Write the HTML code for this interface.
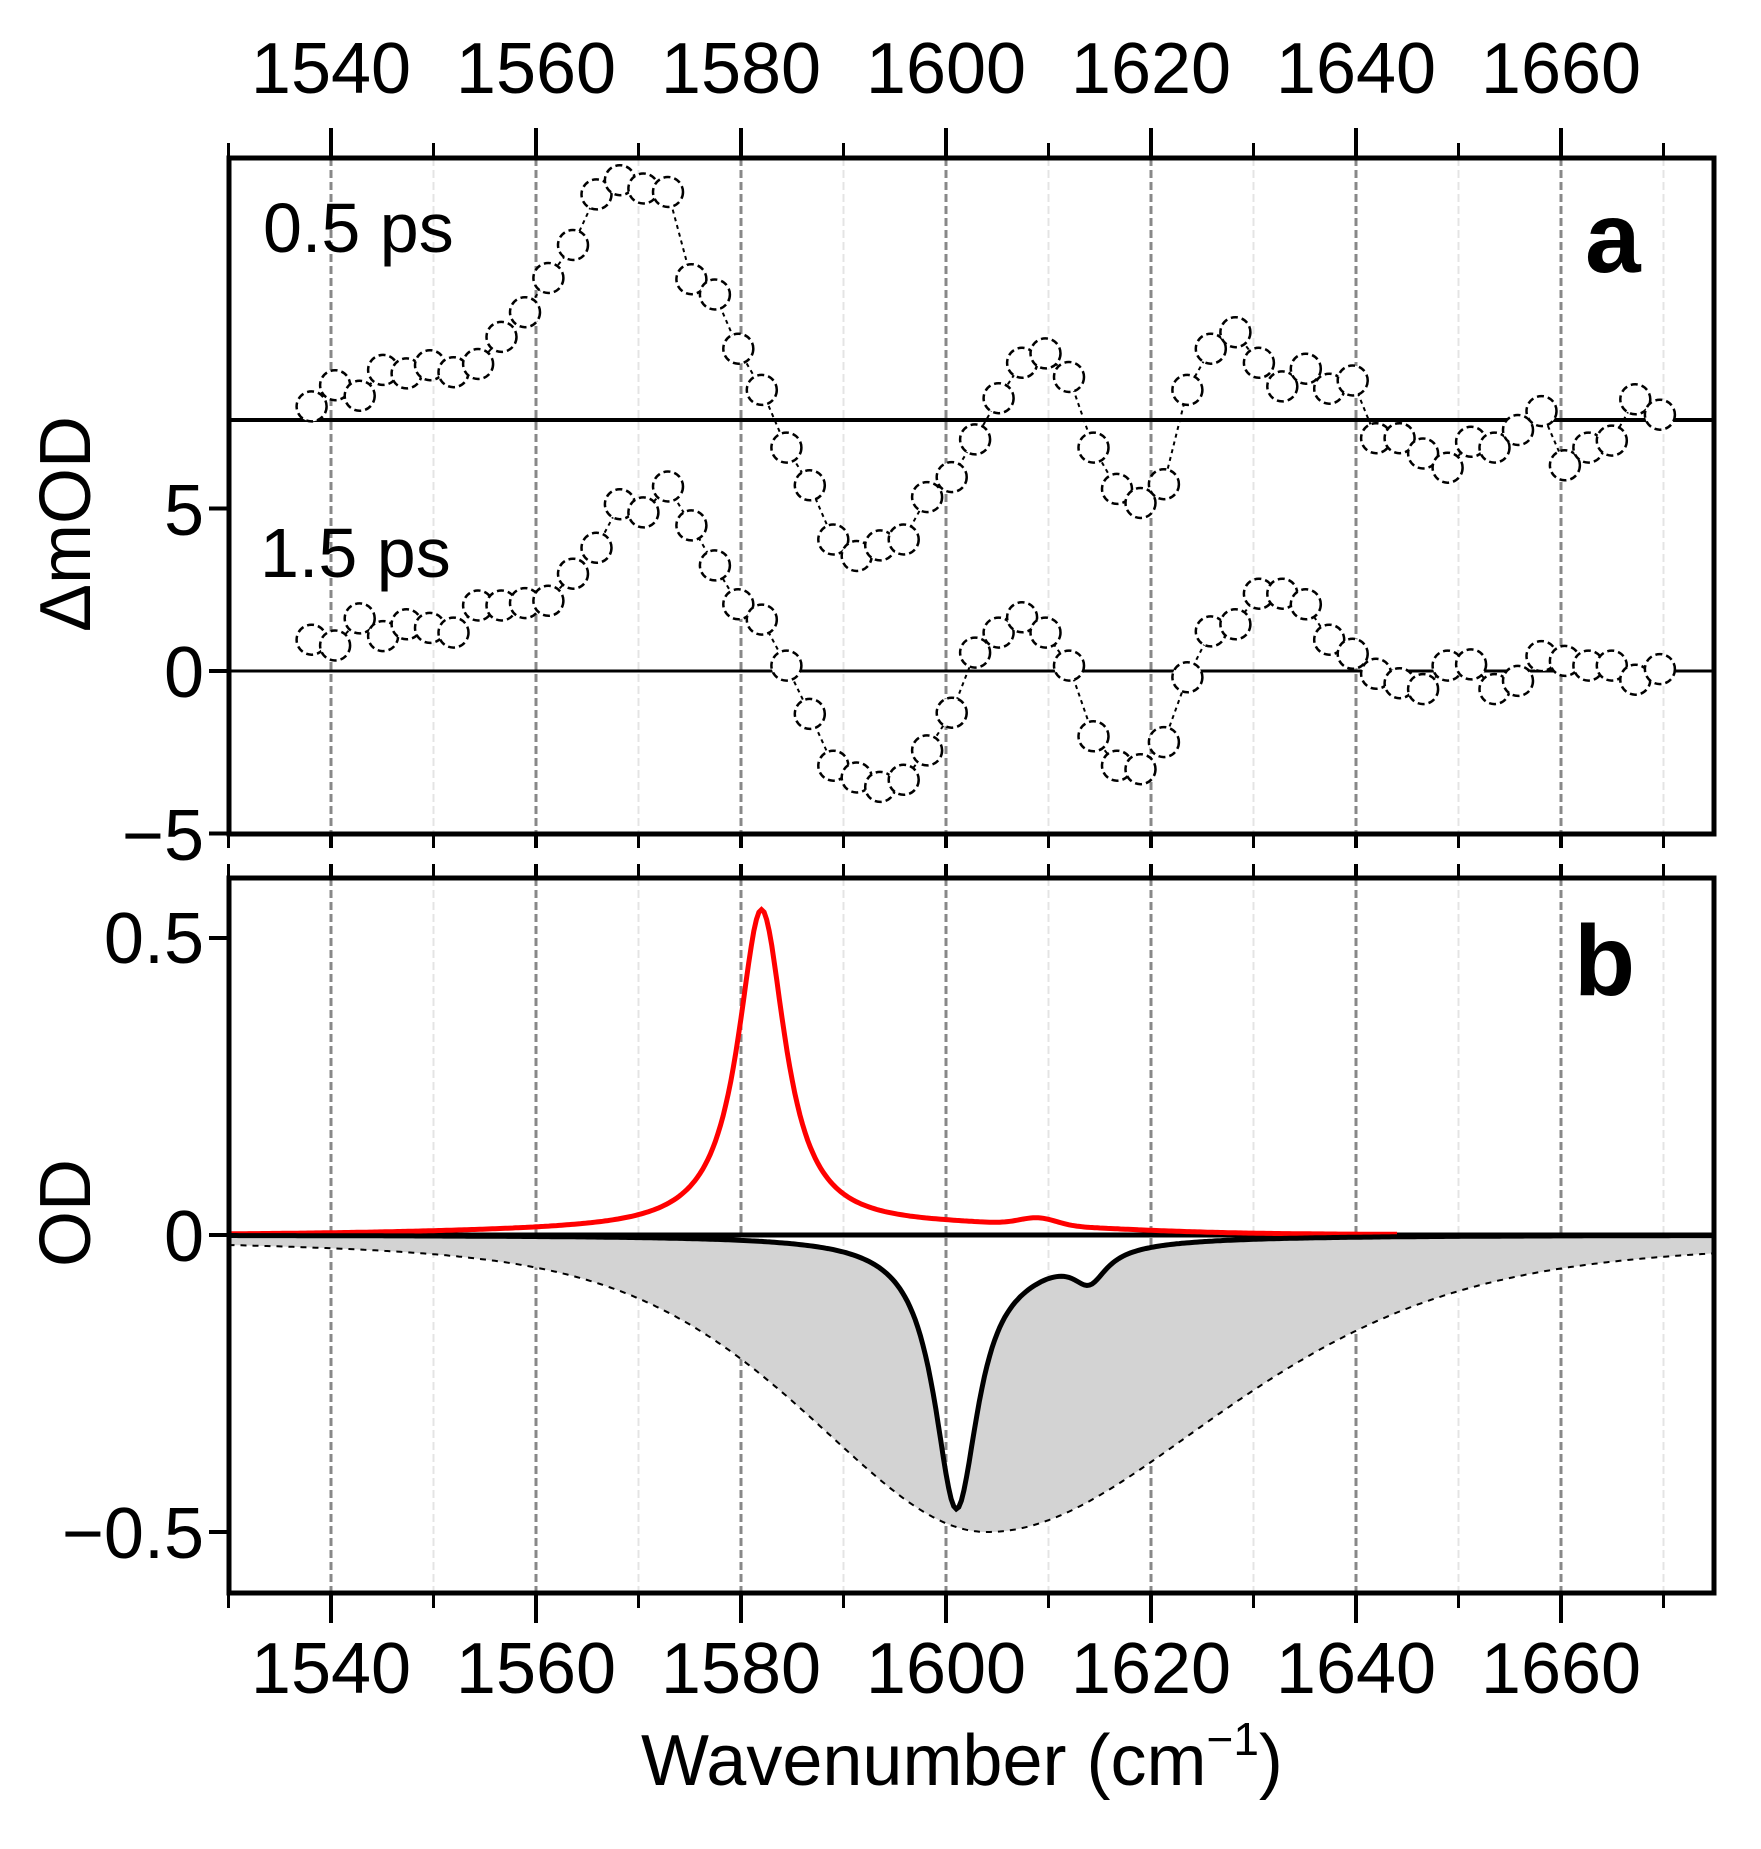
<!DOCTYPE html>
<html><head><meta charset="utf-8">
<style>
html,body{margin:0;padding:0;background:#fff;}
svg{display:block;}
text{font-family:"Liberation Sans",Arial,sans-serif;fill:#000;}
</style></head>
<body>
<svg id="s" width="1761" height="1849" viewBox="0 0 1761 1849" xmlns="http://www.w3.org/2000/svg">
<rect width="1761" height="1849" fill="#fff"/>
<g id="grid"></g>
<g id="fill"></g>
<g id="lines"></g>
<g id="marks"></g>
<g id="axes"></g>
<g font-size="72" text-anchor="middle">
<text x="331" y="93">1540</text><text x="536" y="93">1560</text><text x="741" y="93">1580</text>
<text x="946" y="93">1600</text><text x="1151" y="93">1620</text><text x="1356" y="93">1640</text><text x="1561" y="93">1660</text>
</g>
<g font-size="72" text-anchor="middle">
<text x="331" y="1693">1540</text><text x="536" y="1693">1560</text><text x="741" y="1693">1580</text>
<text x="946" y="1693">1600</text><text x="1151" y="1693">1620</text><text x="1356" y="1693">1640</text><text x="1561" y="1693">1660</text>
</g>
<g font-size="72" text-anchor="end">
<text x="204" y="535">5</text><text x="204" y="697">0</text><text x="204" y="860">−5</text>
<text x="204" y="963">0.5</text><text x="204" y="1261">0</text><text x="204" y="1558">−0.5</text>
</g>
<text font-size="72" transform="translate(90,524) rotate(-90)" text-anchor="middle">ΔmOD</text>
<text font-size="72" transform="translate(90,1213) rotate(-90)" text-anchor="middle">OD</text>
<text font-size="70" x="263" y="252">0.5 ps</text>
<text font-size="70" x="260" y="577">1.5 ps</text>
<text font-size="100" font-weight="bold" x="1585" y="272">a</text>
<text font-size="100" font-weight="bold" x="1574" y="995">b</text>
<text font-size="72" x="641" y="1785">Wavenumber (cm<tspan dy="-30" font-size="46">−1</tspan><tspan dy="30">)</tspan></text>
</svg>
<script>
var NS="http://www.w3.org/2000/svg";
function el(p,t,a){var e=document.createElementNS(NS,t);for(var k in a)e.setAttribute(k,a[k]);document.getElementById(p).appendChild(e);return e;}
function X(w){return 331+(w-1540)*10.25;}
var L=229,R=1714,aT=158,aB=834,bT=878,bB=1593;
function ya(v){return 671-v*32.5;}
function yb(v){return 1235-v*594;}
for(var w=1540;w<=1670;w+=10){
  var maj=(w%20==0);
  el("grid","line",{x1:X(w),x2:X(w),y1:aT,y2:aB,stroke:maj?"#888":"#e4e4e4","stroke-width":maj?3:2,"stroke-dasharray":"8,4"});
  el("grid","line",{x1:X(w),x2:X(w),y1:bT,y2:bB,stroke:maj?"#888":"#e4e4e4","stroke-width":maj?3:2,"stroke-dasharray":"8,4"});
}
function Lz(x,c,g){var d=(x-c)/g;return 1/(1+d*d);}
function gray(x){var hw=x<1604?21:27;var d=(x-1604)/hw;return -0.5*(0.45/(1+d*d)+0.55*Math.exp(-0.693*d*d));}
function blk(x){return -0.44*Lz(x,1601,2.6)-0.05*Lz(x,1614,2)-0.035*Lz(x,1607,7);}
function red(x){var bg=0.012*Math.exp(-Math.pow((x-1603)/18,2))+0.006*Math.exp(-Math.pow((x-1570)/25,2));return 0.54*Lz(x,1582,2.8)+bg+0.012*Math.exp(-Math.pow((x-1609)/2.5,2));}
var fp="",gp="",bp="",rp="";
var ptsB=[],ptsG=[];
for(var x=1530;x<=1675.001;x+=0.25){ptsB.push([X(x),yb(blk(x))]);ptsG.push([X(x),yb(gray(x))]);}
fp="M"+ptsB.map(function(p){return p[0].toFixed(1)+","+p[1].toFixed(1);}).join(" L");
for(var i=ptsG.length-1;i>=0;i--)fp+=" L"+ptsG[i][0].toFixed(1)+","+ptsG[i][1].toFixed(1);
fp+="Z";
el("fill","path",{d:fp,fill:"#d3d3d3",stroke:"none"});
gp="M"+ptsG.map(function(p){return p[0].toFixed(1)+","+p[1].toFixed(1);}).join(" L");
el("lines","path",{d:gp,fill:"none",stroke:"#000","stroke-width":2,"stroke-dasharray":"6,6"});
el("lines","line",{x1:L,x2:R,y1:yb(0),y2:yb(0),stroke:"#000","stroke-width":5});
for(var x=1530;x<=1644;x+=0.25)rp+=(rp?" L":"M")+X(x).toFixed(1)+","+yb(red(x)).toFixed(1);
el("lines","path",{d:rp,fill:"none",stroke:"#f00","stroke-width":5});
bp="M"+ptsB.map(function(p){return p[0].toFixed(1)+","+p[1].toFixed(1);}).join(" L");
el("lines","path",{d:bp,fill:"none",stroke:"#000","stroke-width":5});
el("lines","line",{x1:L,x2:R,y1:420,y2:420,stroke:"#000","stroke-width":4});
el("lines","line",{x1:L,x2:R,y1:ya(0),y2:ya(0),stroke:"#000","stroke-width":3});
var A=[[279,345],[300,327],[322,336],[343,314],[364,317],[385,310],[406,316],[428,309],[449,286],[470,265],[491,236],[513,208],[534,165],[555,153],[576,160],[598,163],[619,237],[640,250],[661,296],[682,331],[704,380],[725,412],[746,458],[767,472],[788,463],[809,458],[830,422],[852,405],[873,373],[894,338],[915,308],[936,300],[957,320],[979,380],[1000,415],[1021,427],[1042,411],[1063,331],[1084,296],[1106,282],[1127,308],[1148,328],[1169,313],[1190,330],[1211,323],[1232,372],[1253,372],[1274,385],[1296,397],[1317,375],[1338,380],[1359,365],[1380,349],[1401,395],[1422,380],[1443,374],[1464,339],[1486,352]];
var B=[[279,543],[300,548],[322,525],[343,540],[364,530],[385,533],[406,537],[428,514],[449,514],[470,512],[491,510],[513,487],[534,465],[555,428],[576,435],[598,413],[619,446],[640,480],[661,513],[682,526],[704,565],[725,606],[746,650],[767,660],[788,668],[809,662],[830,637],[852,605],[873,554],[894,537],[915,524],[936,537],[957,565],[979,625],[1000,650],[1021,653],[1042,630],[1063,575],[1084,536],[1106,530],[1127,504],[1148,504],[1169,513],[1190,543],[1211,555],[1232,572],[1253,580],[1274,585],[1296,565],[1317,564],[1338,585],[1359,578],[1380,557],[1401,561],[1422,565],[1443,565],[1464,577],[1486,568]];
[A,B].forEach(function(S){
  var d="";S.forEach(function(p){d+=(d?" L":"M")+(p[0]*1.117).toFixed(1)+","+(p[1]*1.178).toFixed(1);});
  el("marks","path",{d:d,fill:"none",stroke:"#000","stroke-width":2,"stroke-dasharray":"4,4"});
  S.forEach(function(p){el("marks","circle",{cx:(p[0]*1.117).toFixed(1),cy:(p[1]*1.178).toFixed(1),r:15,fill:"#fff",stroke:"#000","stroke-width":2.5,"stroke-dasharray":"7,4"});});
});
el("axes","rect",{x:L,y:aT,width:R-L,height:aB-aT,fill:"none",stroke:"#000","stroke-width":5});
el("axes","rect",{x:L,y:bT,width:R-L,height:bB-bT,fill:"none",stroke:"#000","stroke-width":5});
for(var w=1530;w<=1675;w+=10){
  var maj=(w%20==0);var t=maj?30:15;var sw=maj?4:3;
  el("axes","line",{x1:X(w),x2:X(w),y1:aT,y2:aT-t,stroke:"#000","stroke-width":sw});
  el("axes","line",{x1:X(w),x2:X(w),y1:bB,y2:bB+t,stroke:"#000","stroke-width":sw});
  el("axes","line",{x1:X(w),x2:X(w),y1:aB,y2:aB+14,stroke:"#000","stroke-width":sw});
  el("axes","line",{x1:X(w),x2:X(w),y1:bT,y2:bT-14,stroke:"#000","stroke-width":sw});
}
[5,0,-5].forEach(function(v){el("axes","line",{x1:L,x2:L-20,y1:ya(v),y2:ya(v),stroke:"#000","stroke-width":4});});
[0.5,0,-0.5].forEach(function(v){el("axes","line",{x1:L,x2:L-20,y1:yb(v),y2:yb(v),stroke:"#000","stroke-width":4});});
</script>
</body></html>
